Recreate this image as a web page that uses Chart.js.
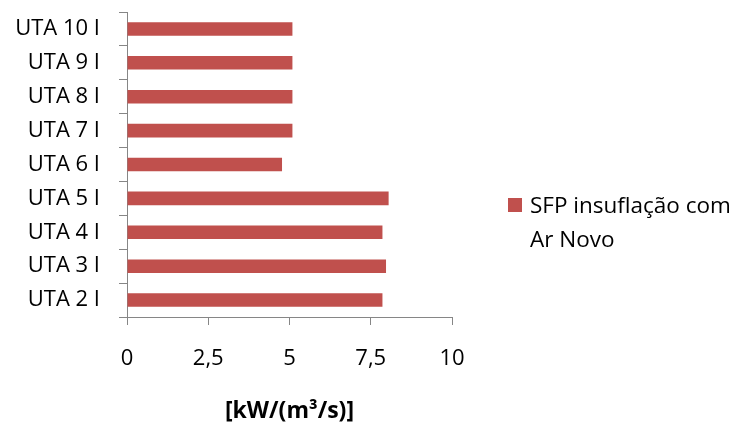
<!DOCTYPE html>
<html>
<head>
<meta charset="utf-8">
<script src="https://cdn.jsdelivr.net/npm/chart.js@4"></script>
<style>
  html, body { margin: 0; padding: 0; background: #fff; }
  #wrap { position: relative; width: 736px; height: 425px; }
  #chart { position: absolute; left: 0; top: 0; }
  #legend { position: absolute; left: 508px; top: 188px; width: 228px;
            font-family: 'Open Sans', sans-serif; font-size: 22.5px; line-height: 34px; color: #000; }
  #legend .item { position: relative; padding-left: 22px; }
  #legend .swatch { position: absolute; left: 0; top: 10px; width: 14px; height: 14px; }
</style>
</head>
<body>
<div id="wrap">
  <canvas id="chart" width="736" height="425"></canvas>
  <div id="legend"></div>
</div>
<script>
// Air handling units, listed top to bottom
const units = ['UTA 10 I', 'UTA 9 I', 'UTA 8 I', 'UTA 7 I', 'UTA 6 I', 'UTA 5 I', 'UTA 4 I', 'UTA 3 I', 'UTA 2 I'];
// Specific fan power of supply with fresh air [kW/(m3/s)]
const sfpSupply = [5.09, 5.09, 5.09, 5.09, 4.77, 8.05, 7.86, 7.97, 7.86];
const seriesName = 'SFP insuflação com Ar Novo';
const xTicks = [0, 2.5, 5, 7.5, 10];
const axisTitle = '[kW/(m³/s)]';

const FONT = "'Open Sans', sans-serif";
const GREY = '#868686';
const RED = '#C0504D';

const chart = new Chart(document.getElementById('chart'), {
  type: 'bar',
  data: {
    labels: units,
    datasets: [{
      label: seriesName,
      data: sfpSupply,
      backgroundColor: RED,
      borderWidth: 0,
      categoryPercentage: 1.0,
      barPercentage: 0.4
    }]
  },
  options: {
    indexAxis: 'y',
    responsive: false,
    animation: false,
    layout: { padding: { left: 0, top: 12, right: 284, bottom: 0 } },
    plugins: { legend: { display: false }, tooltip: { enabled: false } },
    scales: {
      x: {
        min: xTicks[0],
        max: xTicks[xTicks.length - 1],
        afterBuildTicks: (scale) => { scale.ticks = xTicks.map(v => ({ value: v })); },
        afterFit: (scale) => { scale.height = 108; },
        grid: { drawOnChartArea: false, drawTicks: true, tickLength: 8, color: GREY, tickColor: GREY, lineWidth: 1 },
        border: { display: true, color: GREY, width: 1 },
        ticks: {
          padding: 21,
          color: '#000',
          font: { family: FONT, size: 22 },
          callback: (v) => String(v).replace('.', ',')
        },
        title: {
          display: true,
          text: axisTitle,
          color: '#000',
          font: { family: FONT, size: 23, weight: 'bold' },
          padding: { top: 0, bottom: 0 }
        }
      },
      y: {
        afterFit: (scale) => {
          scale.width = 127;
          scale.paddingTop = 0;
          scale.paddingBottom = 0;
        },
        grid: { offset: true, drawOnChartArea: false, drawTicks: true, tickLength: 8, color: GREY, tickColor: GREY, lineWidth: 1 },
        border: { display: true, color: GREY, width: 1 },
        ticks: { padding: 19, color: '#000', font: { family: FONT, size: 22 } }
      }
    }
  }
});

// Legend drawn beside the plot, the series name wrapping onto two lines
const legend = document.getElementById('legend');
chart.data.datasets.forEach(ds => {
  const item = document.createElement('div');
  item.className = 'item';
  const sw = document.createElement('span');
  sw.className = 'swatch';
  sw.style.background = ds.backgroundColor;
  item.appendChild(sw);
  item.appendChild(document.createTextNode(ds.label));
  legend.appendChild(item);
});
</script>
</body>
</html>
